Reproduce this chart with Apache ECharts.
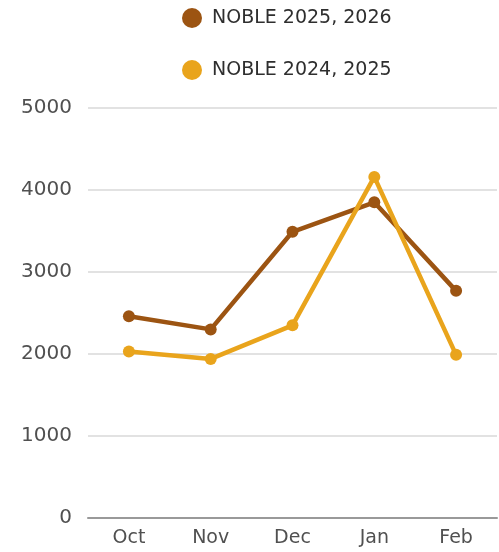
<!DOCTYPE html>
<html>
<head>
<meta charset="utf-8">
<script src="https://cdn.jsdelivr.net/npm/echarts@6/dist/echarts.min.js"></script>
<style>html,body{margin:0;padding:0;background:#fff}#c{width:499px;height:552px}</style>
</head>
<body>
<div id="c"></div>
<script>
const categories = ['Oct', 'Nov', 'Dec', 'Jan', 'Feb'];
const seriesNames = ['NOBLE 2025, 2026', 'NOBLE 2024, 2025'];
const noble2526 = [2460, 2300, 3490, 3850, 2770];
const noble2425 = [2030, 1940, 2350, 4160, 1990];
const yTicks = [0, 1000, 2000, 3000, 4000, 5000];

const chart = echarts.init(document.getElementById('c'), null, {renderer: 'canvas'});
const font = '"DejaVu Sans", sans-serif';
chart.setOption({
  animation: false,
  backgroundColor: '#fff',
  legend: {
    orient: 'vertical',
    left: 177,
    top: 3,
    itemWidth: 20,
    itemHeight: 20,
    itemGap: 32,
    icon: 'circle',
    textStyle: {fontFamily: font, fontSize: 19, color: '#2e2e2e', lineHeight: 20, padding: [0, 0, 0, 5]},
    data: seriesNames
  },
  grid: {left: 88, right: 2, top: 108, bottom: 34, containLabel: false},
  xAxis: {
    type: 'category',
    data: categories,
    boundaryGap: true,
    axisLine: {show: true, lineStyle: {color: '#999', width: 2}},
    axisTick: {show: false},
    axisLabel: {fontFamily: font, fontSize: 19, color: '#505050', margin: 11}
  },
  yAxis: {
    type: 'value',
    min: yTicks[0],
    max: yTicks[yTicks.length - 1],
    interval: 1000,
    axisLine: {show: false},
    axisTick: {show: false},
    axisLabel: {fontFamily: font, fontSize: 20, color: '#505050', margin: 16, formatter: v => String(v)},
    splitLine: {lineStyle: {color: '#d9d9d9', width: 1.5}}
  },
  series: [
    {
      name: seriesNames[0], type: 'line', data: noble2526,
      color: '#9c5412',
      lineStyle: {width: 4.5}, symbol: 'circle', symbolSize: 12
    },
    {
      name: seriesNames[1], type: 'line', data: noble2425,
      color: '#e9a41c',
      lineStyle: {width: 4.5}, symbol: 'circle', symbolSize: 12
    }
  ]
});
</script>
</body>
</html>
